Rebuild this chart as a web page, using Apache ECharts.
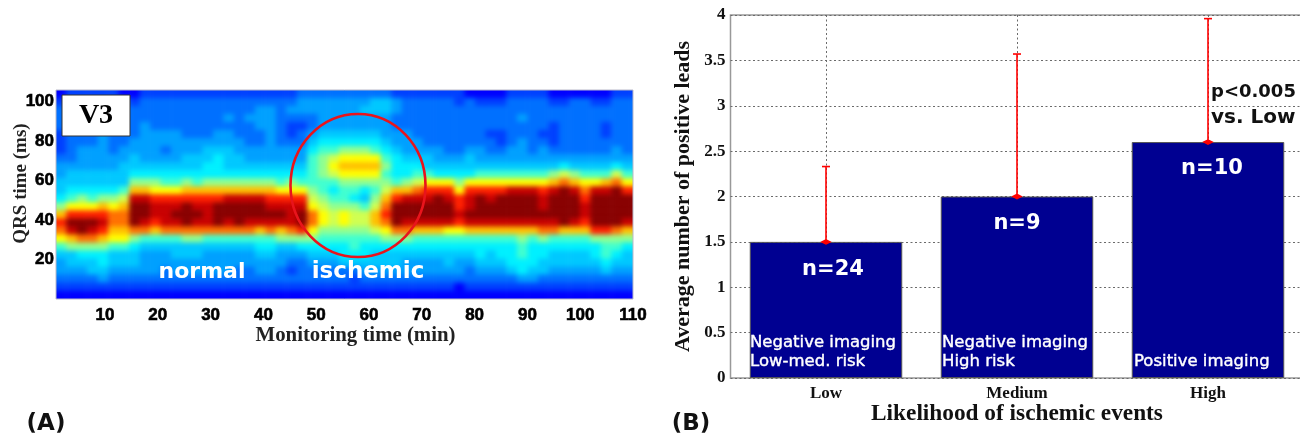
<!DOCTYPE html>
<html>
<head>
<meta charset="utf-8">
<style>html,body{margin:0;padding:0;background:#fff}#c{width:1300px;height:437px}
canvas[data-zr-dom-id="zr_0"]{filter:blur(2.4px);clip-path:inset(90px 667.5px 138px 56px)}</style>
<script src="https://cdn.jsdelivr.net/npm/echarts@6/dist/echarts.min.js"></script>
</head>
<body>
<div id="c"></div>
<script>
// Panel A: colour level, one list per 2-minute column, top (104 ms) to bottom (4 ms)
const minutes = [2,4,6,8,10,12,14,16,18,20,22,24,26,28,30,32,34,36,38,40,42,44,46,48,50,52,54,56,58,60,62,64,66,68,70,72,74,76,78,80,82,84,86,88,90,92,94,96,98,100,102,104,106,108,110];
const qrsMs = [104,100,96,92,88,84,80,76,72,68,64,60,56,52,48,44,40,36,32,28,24,20,16,12,8,4];
const levelsByColumn = [
[1,2,3,3,3,2,2,2,3,4,4,5,5,6,8,11,13,12,10,7,5,4,4,3,2,1],
[2,3,3,3,3,3,3,3,3,4,5,5,6,7,10,13,15,14,11,8,5,5,4,3,2,1],
[2,3,3,3,3,3,3,4,4,4,5,5,6,8,10,13,15,15,12,8,6,5,4,3,2,1],
[2,3,3,3,3,3,3,4,4,4,5,5,6,7,10,13,15,14,12,8,6,5,5,3,2,1],
[2,3,3,3,4,4,4,4,4,4,5,5,6,8,11,13,14,13,11,8,6,6,5,4,2,1],
[2,3,3,3,4,3,3,3,4,4,5,5,6,8,10,12,12,11,10,7,5,5,4,3,2,1],
[1,3,3,3,3,3,3,4,4,5,5,5,7,9,11,12,12,11,10,7,5,5,4,3,2,1],
[1,2,3,3,3,3,4,4,5,5,6,8,11,14,15,15,15,12,8,6,5,5,4,3,2,1],
[2,3,3,3,4,4,4,4,4,5,6,8,11,14,15,15,14,12,7,5,4,4,4,3,2,1],
[2,3,3,3,3,4,4,4,4,5,6,8,10,13,14,14,13,11,7,5,4,4,4,3,2,1],
[2,3,3,3,3,4,4,3,4,5,6,7,10,13,14,14,14,12,7,5,4,4,3,3,2,1],
[2,3,3,3,3,4,4,4,4,5,6,7,10,13,14,15,14,12,7,5,5,4,4,3,2,1],
[2,3,3,3,3,3,4,4,5,5,6,8,11,13,15,15,15,12,8,5,5,4,4,3,2,1],
[2,3,3,3,3,3,4,4,5,5,6,7,11,13,14,15,14,12,8,5,5,4,4,3,2,1],
[2,3,3,3,3,3,4,5,5,6,6,8,11,13,14,14,14,12,7,5,4,4,4,3,2,1],
[2,3,3,3,3,4,4,5,6,6,6,8,11,13,15,15,15,12,7,5,4,4,4,3,2,1],
[2,3,3,4,3,4,4,5,5,5,6,8,11,14,15,15,14,12,7,5,4,4,4,3,2,1],
[2,3,3,3,3,3,4,4,5,5,6,8,11,14,15,15,15,12,7,5,4,4,3,3,2,1],
[2,3,3,4,3,3,3,4,4,5,6,8,11,14,15,15,14,12,7,5,4,4,3,3,2,1],
[2,3,4,4,4,3,3,4,4,5,6,8,11,14,15,15,14,11,7,6,5,4,4,3,2,1],
[2,3,4,4,4,4,4,4,4,5,6,8,11,13,14,15,14,12,7,6,5,4,4,3,2,1],
[2,3,3,3,3,3,3,4,4,5,6,7,10,13,14,15,14,11,8,5,4,4,3,3,2,1],
[2,3,4,3,2,2,3,4,4,5,6,8,10,13,14,14,14,12,8,5,4,3,2,3,2,1],
[3,4,4,3,2,3,3,4,4,5,6,7,10,13,14,15,15,13,8,6,4,3,3,3,2,1],
[3,4,4,3,3,4,5,6,7,7,7,7,8,9,10,12,12,10,8,6,5,4,3,3,2,1],
[3,4,4,4,4,5,6,7,8,8,8,7,7,8,9,10,10,8,7,6,5,4,3,3,2,1],
[3,4,4,4,4,5,6,7,9,10,9,7,6,7,8,9,9,8,7,6,5,4,3,3,2,1],
[3,4,4,4,4,5,6,8,10,11,10,8,7,7,8,10,10,8,7,6,6,5,3,3,2,1],
[3,4,4,4,4,5,6,8,10,11,10,8,7,6,8,9,9,8,7,7,6,5,3,2,2,1],
[3,4,5,4,4,5,6,8,10,11,10,8,6,5,7,9,9,8,7,6,6,5,4,3,2,1],
[3,5,5,4,4,5,6,7,10,11,10,8,7,8,9,11,11,9,7,6,5,5,4,3,2,1],
[3,5,5,4,4,4,5,6,7,8,7,8,9,11,12,13,12,10,8,6,5,5,4,3,2,1],
[2,4,4,3,3,4,4,5,6,6,6,7,11,13,15,15,15,12,8,6,5,5,4,3,2,1],
[2,3,3,3,3,4,4,4,5,6,6,8,11,14,15,15,14,12,8,6,5,4,4,3,2,1],
[2,3,3,3,3,3,4,4,5,6,7,9,12,14,15,15,14,11,7,6,5,4,4,3,2,1],
[2,3,3,3,3,3,3,4,5,5,7,10,13,14,15,15,14,11,7,6,5,4,4,3,2,1],
[2,3,3,3,3,3,3,4,4,5,6,10,13,15,15,15,14,11,7,6,5,4,4,3,2,1],
[2,3,3,3,3,3,3,3,4,5,6,10,13,14,15,15,14,10,7,6,5,5,4,3,2,1],
[2,2,3,3,3,3,3,3,4,5,6,8,10,13,13,14,13,10,7,6,5,4,4,3,1,1],
[1,3,3,3,3,3,3,4,5,5,6,10,13,14,14,15,14,11,7,6,5,4,3,3,2,1],
[1,2,3,3,3,3,3,4,4,5,7,10,13,15,15,15,14,11,7,6,6,5,4,3,2,1],
[1,2,3,3,3,2,3,3,4,5,7,10,13,14,15,15,14,11,7,6,5,5,4,3,2,1],
[1,2,3,3,3,2,2,3,4,5,7,10,13,15,15,15,14,11,7,6,6,5,4,3,2,1],
[2,3,3,3,3,3,3,4,4,5,7,10,14,15,15,15,14,11,7,6,6,6,5,3,2,1],
[2,3,3,4,3,3,4,4,4,5,7,10,14,15,15,15,14,11,8,7,7,6,6,4,2,1],
[2,3,3,3,3,3,3,3,4,5,7,10,14,15,15,15,14,11,7,6,6,6,5,4,2,1],
[2,3,3,3,3,2,3,4,4,5,7,10,13,14,14,15,14,12,8,6,6,5,5,3,2,1],
[1,2,3,3,2,2,2,3,4,5,8,11,14,15,15,15,14,12,7,6,5,5,4,3,2,1],
[1,2,3,3,3,3,3,3,4,6,9,12,15,15,15,15,15,11,7,6,5,5,4,3,2,1],
[1,3,3,3,3,3,3,3,4,5,8,11,14,15,15,15,14,11,7,6,5,5,4,3,2,1],
[1,3,3,3,3,3,3,3,4,5,7,10,12,13,14,14,13,11,7,6,5,5,4,3,2,1],
[1,2,3,3,3,3,3,3,4,5,7,10,14,15,15,15,15,13,8,6,6,5,4,3,2,1],
[1,2,3,3,2,2,3,3,4,5,7,11,14,15,15,15,15,13,8,7,7,6,5,3,2,1],
[2,3,3,3,3,3,3,4,4,6,9,12,15,15,15,15,15,12,8,7,6,5,4,3,2,1],
[2,3,3,3,3,3,3,3,4,5,7,10,13,15,15,15,14,11,8,6,5,5,4,3,2,1]
];
const jetColors = ['#0000c4','#0000ff','#0040ff','#0070ff','#00a0ff','#00c8ff','#00f0ff','#40ffd0','#90ff90','#d0ff50','#ffff00','#ffc000','#ff7000','#ff2000','#c80000','#880000'];
const minuteTicks = [10,20,30,40,50,60,70,80,90,100,110];
const qrsTicks = [20,40,60,80,100];

// Panel B
const likelihood = ['Low','Medium','High'];
const positiveLeads = [1.5,2,2.6];
const upperError = [2.33,3.57,3.96];
const sampleSizes = ['n=24','n=9','n=10'];

// The heat layer carries one repeated edge cell on each side, cut off by the clip, so the soft edge stays opaque.
const nc = levelsByColumn.length, nr = qrsMs.length;
const heatData = [];
for (let i=-1;i<=nc;i++) for (let j=-1;j<=nr;j++){
  const c = levelsByColumn[Math.max(0,Math.min(nc-1,i))];
  heatData.push([i+1,j+1,c[Math.max(0,Math.min(nr-1,j))]]);
}
const heatX = ['<'].concat(minutes,['>']);
const heatY = ['^'].concat(qrsMs,['_']);

const serif = 'Liberation Serif';
const sans = 'DejaVu Sans';
function txt(x,y,text,size,color,family,weight,align,stroke){
  const style = {text,fill:color,font:(weight||'normal')+' '+size+'px "'+family+'"',textAlign:align||'center',textVerticalAlign:'middle'};
  if (stroke){style.stroke=color;style.lineWidth=stroke;}
  return {type:'text',x,y,z:50,zlevel:1,silent:true,style};
}
const graphic = [
  {type:'ellipse',z:40,zlevel:1,silent:true,shape:{cx:358,cy:185.5,rx:67.5,ry:71.5},style:{fill:null,stroke:'#e8141c',lineWidth:2.6}},
  {type:'rect',z:40,zlevel:1,silent:true,shape:{x:62,y:95,width:68,height:41},style:{fill:'#fff',stroke:'#333',lineWidth:1}},
  txt(96,116,'V3',28,'#000',serif,'bold'),
  txt(202,272,'normal',22,'#fff',sans,'bold'),
  txt(368,272,'ischemic',23,'#fff',sans,'bold'),
  txt(46,424,'(A)',23,'#111',sans,'bold'),
  txt(691,424,'(B)',23,'#111',sans,'bold'),
  txt(833,270,sampleSizes[0],21,'#fff',sans,'bold'),
  txt(1017,223.5,sampleSizes[1],21,'#fff',sans,'bold'),
  txt(1212,169,sampleSizes[2],21,'#fff',sans,'bold'),
  txt(750,343,'Negative imaging',16.5,'#fff',sans,'normal','left',0.4),
  txt(750,362,'Low-med. risk',16.5,'#fff',sans,'normal','left',0.4),
  txt(942,343,'Negative imaging',16.5,'#fff',sans,'normal','left',0.4),
  txt(942,362,'High risk',16.5,'#fff',sans,'normal','left',0.4),
  txt(1134,362,'Positive imaging',16.5,'#fff',sans,'normal','left',0.4),
  txt(1211,92,'p<0.005',18,'#111',sans,'bold','left'),
  txt(1211,118,'vs. Low',20,'#111',sans,'bold','left')
];
const dots = {color:'#6a6a6a',type:[2,2.5],width:1};

const option = {
  animation:false,
  backgroundColor:'transparent',
  graphic,
  visualMap:{show:false,min:0,max:15,seriesIndex:0,dimension:2,inRange:{color:jetColors}},
  grid:[
    {left:56-576.5/nc,top:90-209/nr,width:576.5*(nc+2)/nc,height:209*(nr+2)/nr,outerBoundsMode:'none'},
    {left:56,top:90,width:577,height:209,show:true,borderColor:'#b8b8c8',borderWidth:1,backgroundColor:'transparent',outerBoundsMode:'none',zlevel:1},
    {left:730.5,top:15,width:573,height:363,show:true,borderColor:'#999',borderWidth:1.5,outerBoundsMode:'none',zlevel:1}
  ],
  xAxis:[
    {gridIndex:0,type:'category',data:heatX,show:false},
    {gridIndex:1,type:'value',min:0.72,max:110,position:'bottom',zlevel:1,
      splitLine:{show:false},axisLine:{show:false},axisTick:{show:false},
      axisLabel:{customValues:minuteTicks,margin:8,color:'#000',fontFamily:'Liberation Sans',fontWeight:'bold',fontSize:17,textBorderColor:'#000',textBorderWidth:0.6},
      name:'Monitoring time (min)',nameLocation:'middle',nameGap:26,nameMoveOverlap:false,
      nameTextStyle:{color:'#222',fontFamily:serif,fontWeight:'bold',fontSize:20.8,padding:[0,0,0,22]}},
    {gridIndex:2,type:'category',data:likelihood,zlevel:1,
      axisLine:{show:false},axisTick:{show:false},
      splitLine:{show:true,alignWithLabel:true,lineStyle:dots},
      axisLabel:{margin:7,color:'#111',fontFamily:serif,fontWeight:'bold',fontSize:17},
      name:'Likelihood of ischemic events',nameLocation:'middle',nameGap:24,nameMoveOverlap:false,
      nameTextStyle:{color:'#111',fontFamily:serif,fontWeight:'bold',fontSize:23.3}}
  ],
  yAxis:[
    {gridIndex:0,type:'category',data:heatY,inverse:true,show:false},
    {gridIndex:1,type:'value',min:0,max:105.7,interval:20,position:'left',zlevel:1,
      splitLine:{show:false},axisLine:{show:false},axisTick:{show:false},
      axisLabel:{customValues:qrsTicks,margin:2,color:'#000',fontFamily:'Liberation Sans',fontWeight:'bold',fontSize:17,textBorderColor:'#000',textBorderWidth:0.6},
      name:'QRS time (ms)',nameLocation:'middle',nameGap:25,nameMoveOverlap:false,
      nameTextStyle:{color:'#222',fontFamily:serif,fontWeight:'bold',fontSize:19,padding:[0,0,0,22]}},
    {gridIndex:2,type:'value',min:0,max:4,interval:0.5,zlevel:1,
      splitLine:{show:true,lineStyle:dots},
      axisLine:{show:false},axisTick:{show:false},
      axisLabel:{margin:5,color:'#111',fontFamily:serif,fontWeight:'bold',fontSize:17},
      name:'Average number of positive leads',nameLocation:'middle',nameGap:36,nameMoveOverlap:false,
      nameTextStyle:{color:'#111',fontFamily:serif,fontWeight:'bold',fontSize:22}}
  ],
  series:[
    {type:'heatmap',xAxisIndex:0,yAxisIndex:0,data:heatData,silent:true,progressive:0,zlevel:0,itemStyle:{borderWidth:0}},
    {type:'bar',xAxisIndex:2,yAxisIndex:2,data:positiveLeads,barWidth:152.5,silent:true,zlevel:1,
      itemStyle:{color:'#000091',borderColor:'#555',borderWidth:1}},
    {type:'custom',xAxisIndex:2,yAxisIndex:2,silent:true,z:10,zlevel:1,
      data:positiveLeads.map((v,i)=>[i,v,upperError[i]]),encode:{x:0,y:[1,2]},
      renderItem(params,api){
        const b=api.coord([api.value(0),api.value(1)]);
        const t=api.coord([api.value(0),api.value(2)]);
        const st={stroke:'#f00',lineWidth:1.6,fill:'#f00'};
        return {type:'group',children:[
          {type:'line',shape:{x1:b[0],y1:b[1],x2:t[0],y2:t[1]},style:st},
          {type:'line',shape:{x1:t[0]-4,y1:t[1],x2:t[0]+4,y2:t[1]},style:st},
          {type:'polygon',shape:{points:[[b[0]-4,b[1]],[b[0],b[1]-2],[b[0]+4,b[1]],[b[0],b[1]+2]]},style:st}
        ]};
      }}
  ]
};
const chart = echarts.init(document.getElementById('c'),null,{renderer:'canvas'});
chart.setOption(option);
</script>
</body>
</html>
